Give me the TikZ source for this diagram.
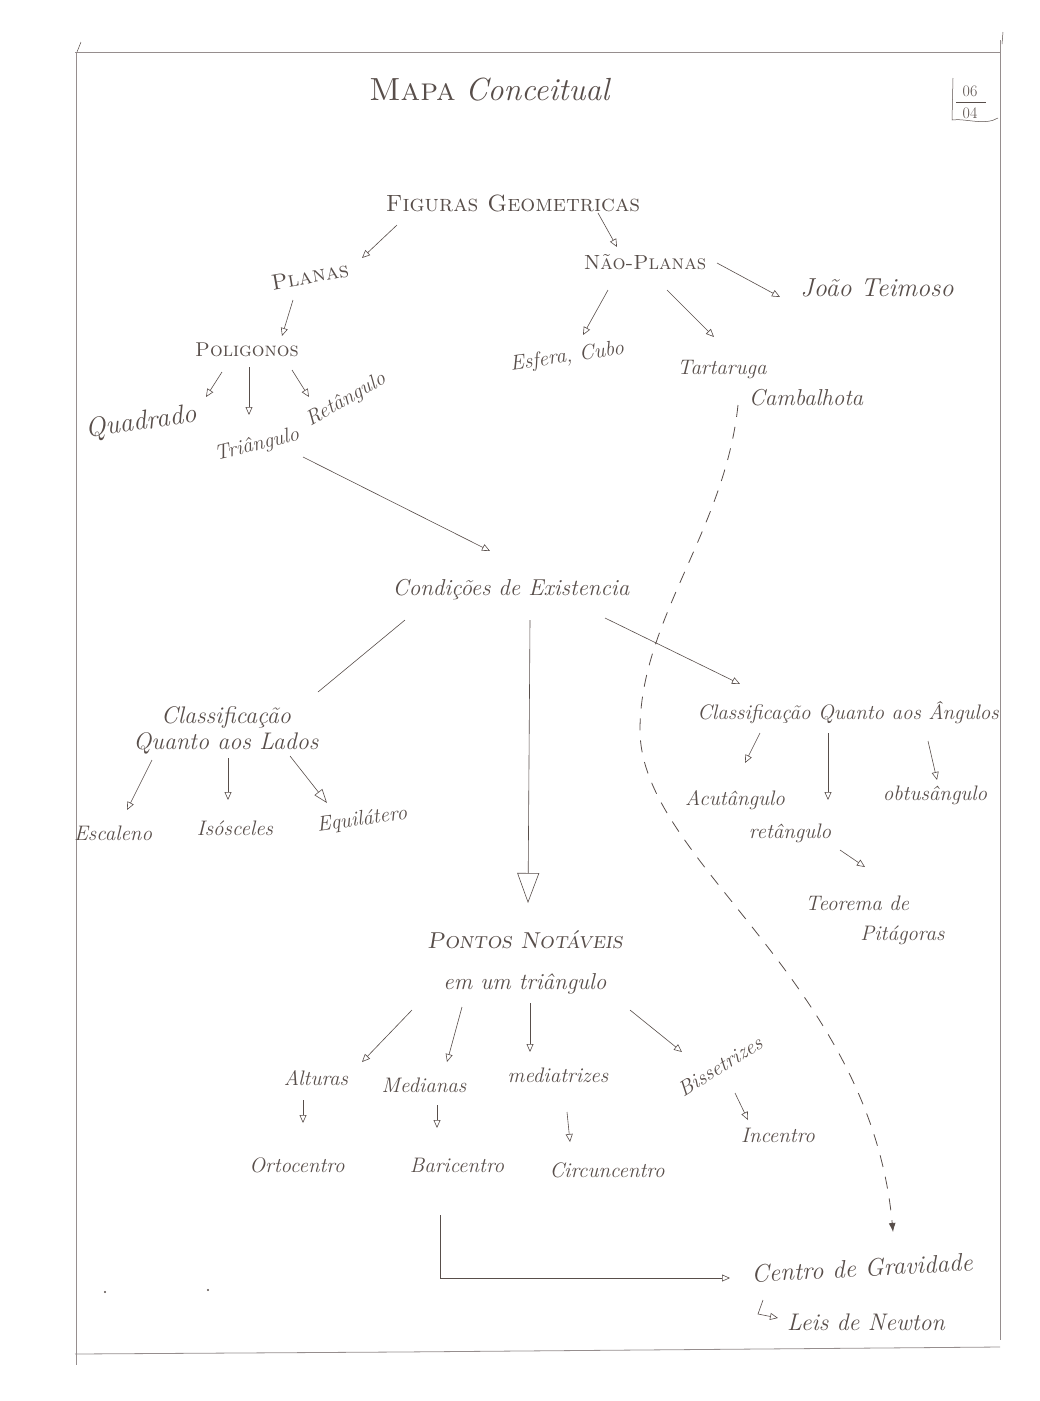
\documentclass[tikz,border=0pt]{standalone}
\usepackage{fontspec}
\usetikzlibrary{arrows.meta}
\definecolor{pencil}{RGB}{88,78,74}
\definecolor{rule}{RGB}{150,142,142}
\begin{document}
\begin{tikzpicture}[x=1pt,y=-1pt,
  hand/.style={text=pencil, inner sep=0pt, font=\fontsize{21}{25}\selectfont\itshape},
  hsz/.style={font=\fontsize{#1}{28}\selectfont\itshape},
  caps/.style={text=pencil, inner sep=0pt, font=\fontsize{22}{26}\selectfont\scshape},
  csz/.style={font=\fontsize{#1}{28}\selectfont\scshape},
  link/.style={draw=pencil, line width=0.6pt, -{Triangle[open,length=8pt,width=7pt]}},
  bigtip/.style={draw=pencil, line width=0.6pt, -{Triangle[open,length=30pt,width=22pt]}},
  plain/.style={draw=pencil, line width=0.6pt},
  dashlink/.style={draw=pencil, line width=0.8pt, dash pattern=on 12pt off 10pt, -{Latex[length=9pt,width=7pt]}}]
\useasboundingbox[fill=white] (0,0) rectangle (1040,1401);

% page frame
\draw[rule, line width=0.8pt] (75,52) -- (1000,52);
\draw[rule, line width=0.6pt] (76,52) -- (76,1365);
\draw[rule, line width=0.6pt] (1000,40) -- (1000,1340);
\draw[rule, line width=0.8pt] (75,1354) -- (400,1352) -- (1000,1347);
\draw[pencil, line width=0.5pt] (81,42) -- (77,52);
\draw[pencil, line width=0.5pt] (1003,32) -- (1002,44);
\fill[pencil] (105,1292) circle (1.2pt);
\fill[pencil] (208,1290) circle (1.2pt);

% heading and date
\node[hand, font=\fontsize{32}{36}\selectfont] (title) at (490,90) {{\scshape Mapa} \textit{Conceitual}};
\node[hand, font=\fontsize{16}{18}\selectfont\upshape] (dday) at (970,91) {06};
\node[hand, font=\fontsize{16}{18}\selectfont\upshape] (dmonth) at (970,113) {04};
\draw[pencil, line width=0.5pt] (956,102) -- (986,102);
\draw[pencil, line width=0.5pt] (953,78) -- (952,120) .. controls (965,118) and (985,126) .. (998,118);

% concept nodes
\node[caps, csz=23.5] (fig) at (513,203) {Figuras Geometricas};
\node[caps, rotate=10] (planas) at (310,276) {Planas};
\node[caps, csz=20.5] (nplanas) at (645,262) {Não-Planas};
\node[hand, hsz=26] (joao) at (877,288) {João Teimoso};
\node[caps, csz=20] (polig) at (247,350) {Poligonos};
\node[hand, hsz=27, rotate=8] (quad) at (141,423) {Quadrado};
\node[hand, hsz=21, rotate=14] (tri) at (257,445) {Triângulo};
\node[hand, rotate=30] (ret) at (346,400) {Retângulo};
\node[hand, rotate=8] (esf) at (567,357) {Esfera, Cubo};
\node[hand] (tart) at (722,370) {Tartaruga};
\node[hand, hsz=23] (camb) at (806,398) {Cambalhota};

\node[hand, hsz=23] (cond) at (511,590) {Condições de Existencia};

\node[hand, font=\fontsize{24}{26}\selectfont\itshape, align=center] (clado) at (226,730) {Classificação\\Quanto aos Lados};
\node[hand] (esc) at (113,833) {Escaleno};
\node[hand] (iso) at (235,828) {Isósceles};
\node[hand, rotate=8] (equi) at (362,820) {Equilátero};

\node[hand] (cang) at (848,713) {Classificação Quanto aos Ângulos};
\node[hand] (acut) at (735,800) {Acutângulo};
\node[hand] (retg) at (790,833) {retângulo};
\node[hand] (obtu) at (935,795) {obtusângulo};
\node[hand, font=\fontsize{21}{30}\selectfont\itshape, align=left] (teo) at (875,920) {Teorema de\\\hspace*{55pt}Pitágoras};

\node[hand, font=\fontsize{23}{41}\selectfont\itshape, align=center] (pontos) at (525,962) {{\scshape Pontos Notáveis}\\em um triângulo};
\node[hand] (alt) at (316,1078) {Alturas};
\node[hand] (med) at (424,1085) {Medianas};
\node[hand] (medt) at (558,1075) {mediatrizes};
\node[hand, rotate=32] (biss) at (720,1066) {Bissetrizes};
\node[hand] (orto) at (297,1165) {Ortocentro};
\node[hand] (bari) at (457,1165) {Baricentro};
\node[hand] (circ) at (607,1170) {Circuncentro};
\node[hand] (inc) at (778,1135) {Incentro};

\node[hand, hsz=25, rotate=3] (cg) at (862,1268) {Centro de Gravidade};
\node[hand, hsz=24] (leis) at (866,1322) {Leis de Newton};

% connectors
\draw[link] ([shift={(-116,22)}]fig.center) -- ([shift={(52,-18)}]planas.center);
\draw[link] ([shift={(85,10)}]fig.center) -- ([shift={(-28,-15)}]nplanas.center);
\draw[link] ([shift={(72,1)}]nplanas.center) -- ([shift={(-97,9)}]joao.center);
\draw[link] ([shift={(-37,28)}]nplanas.center) -- ([shift={(16,-22)}]esf.center);
\draw[link] ([shift={(22,28)}]nplanas.center) -- ([shift={(-8,-33)}]tart.center);
\draw[link] ([shift={(-17,24)}]planas.center) -- ([shift={(35,-14)}]polig.center);
\draw[link] ([shift={(-25,22)}]polig.center) -- ([shift={(65,-26)}]quad.center);
\draw[link] ([shift={(2,17)}]polig.center) -- ([shift={(-8,-30)}]tri.center);
\draw[link] ([shift={(45,20)}]polig.center) -- ([shift={(-37,-3)}]ret.center);
\draw[link] ([shift={(46,12)}]tri.center) -- ([shift={(-21,-39)}]cond.center);

\draw[plain] ([shift={(-106,30)}]cond.center) -- ([shift={(92,-38)}]clado.center);
\draw[bigtip] ([shift={(19,30)}]cond.center) -- ([shift={(3,-59)}]pontos.center);
\draw[link] ([shift={(94,28)}]cond.center) -- ([shift={(-108,-29)}]cang.center);

\draw[link] ([shift={(-74,30)}]clado.center) -- ([shift={(14,-23)}]esc.center);
\draw[link] ([shift={(2,28)}]clado.center) -- ([shift={(-7,-28)}]iso.center);
\draw[link, -{Triangle[open,length=14pt,width=10pt]}] ([shift={(64,26)}]clado.center) -- ([shift={(-35,-17)}]equi.center);

\draw[link] ([shift={(-88,20)}]cang.center) -- ([shift={(10,-37)}]acut.center);
\draw[link] ([shift={(-20,20)}]cang.center) -- ([shift={(38,-33)}]retg.center);
\draw[link] ([shift={(80,28)}]cang.center) -- ([shift={(2,-15)}]obtu.center);
\draw[link] ([shift={(50,17)}]retg.center) -- ([shift={(-10,-53)}]teo.center);

\draw[link] ([shift={(-113,48)}]pontos.center) -- ([shift={(46,-16)}]alt.center);
\draw[link] ([shift={(-63,45)}]pontos.center) -- ([shift={(23,-23)}]med.center);
\draw[link] ([shift={(5,41)}]pontos.center) -- ([shift={(-28,-23)}]medt.center);
\draw[link] ([shift={(105,48)}]pontos.center) -- ([shift={(-38,-14)}]biss.center);

\draw[link] ([shift={(-13,22)}]alt.center) -- ([shift={(6,-42)}]orto.center);
\draw[link] ([shift={(13,20)}]med.center) -- ([shift={(-20,-37)}]bari.center);
\draw[link] ([shift={(9,37)}]medt.center) -- ([shift={(-37,-28)}]circ.center);
\draw[link] ([shift={(15,27)}]biss.center) -- ([shift={(-30,-15)}]inc.center);

\draw[link] ([shift={(-17,50)}]bari.center) |- ([shift={(-132,10)}]cg.center);
\draw[link] ([shift={(-99,32)}]cg.center) -- ++(-5,14) -- ([shift={(-88,-4)}]leis.center);

% dashed link from the tumbling turtle to the centre of gravity
\draw[dashlink] ([shift={(-68,7)}]camb.center)
  .. controls (725,530) and (640,620) .. (640,730)
  .. controls (640,860) and (870,980) .. ([shift={(31,-36)}]cg.center);
\end{tikzpicture}
\end{document}
